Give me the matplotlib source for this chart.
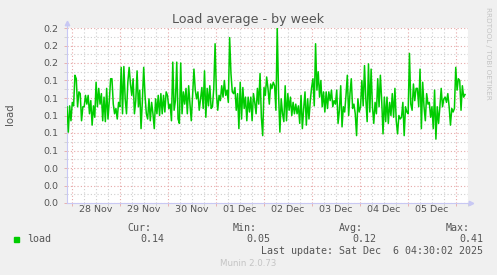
import numpy as np
import pandas as pd
import matplotlib
matplotlib.use("Agg")
import matplotlib.pyplot as plt
import matplotlib.dates as mdates

# ==========================================
# DATA (load average, 1 week)
# ==========================================
load = [
    0.110, 0.081, 0.111, 0.094, 0.115, 0.111, 0.146, 0.142, 0.110, 0.127, 0.125, 0.094,
    0.110, 0.110, 0.123, 0.113, 0.123, 0.102, 0.117, 0.089, 0.111, 0.098, 0.138, 0.110,
    0.131, 0.113, 0.125, 0.094, 0.121, 0.093, 0.131, 0.096, 0.117, 0.142, 0.142, 0.113,
    0.102, 0.108, 0.096, 0.115, 0.110, 0.155, 0.102, 0.156, 0.119, 0.102, 0.138, 0.155,
    0.136, 0.123, 0.142, 0.102, 0.117, 0.151, 0.110, 0.129, 0.085, 0.117, 0.155, 0.123,
    0.102, 0.096, 0.119, 0.094, 0.115, 0.102, 0.085, 0.119, 0.102, 0.123, 0.100, 0.125,
    0.102, 0.123, 0.104, 0.127,
    0.123, 0.108, 0.113, 0.094, 0.161, 0.106, 0.117, 0.161, 0.096, 0.091, 0.160, 0.102,
    0.127, 0.113, 0.131, 0.102, 0.134, 0.113, 0.094, 0.123, 0.153, 0.129, 0.119, 0.127,
    0.106, 0.119, 0.132, 0.108, 0.151, 0.098, 0.131, 0.111, 0.134, 0.108, 0.110, 0.131,
    0.182, 0.125, 0.106, 0.123, 0.117, 0.134, 0.121, 0.140, 0.123, 0.129, 0.115, 0.189,
    0.148, 0.127, 0.125, 0.132, 0.106, 0.125, 0.085, 0.138, 0.096, 0.132, 0.108, 0.121,
    0.094, 0.121, 0.104, 0.121, 0.094, 0.125, 0.115, 0.102, 0.131, 0.113, 0.148, 0.098,
    0.077, 0.132, 0.123, 0.144,
    0.131, 0.113, 0.136, 0.131, 0.138, 0.134, 0.106, 0.200, 0.125, 0.081, 0.119, 0.102,
    0.093, 0.134, 0.094, 0.125, 0.106, 0.121, 0.100, 0.115, 0.102, 0.113, 0.102, 0.111,
    0.091, 0.123, 0.085, 0.108, 0.127, 0.089, 0.119, 0.096, 0.117, 0.132, 0.142, 0.111,
    0.182, 0.129, 0.150, 0.121, 0.140, 0.110, 0.127, 0.104, 0.127, 0.108, 0.127, 0.117,
    0.129, 0.110, 0.117, 0.113, 0.129, 0.091, 0.106, 0.134, 0.087, 0.110, 0.104, 0.123,
    0.146, 0.100, 0.125, 0.142, 0.108, 0.113, 0.102, 0.077, 0.119, 0.104, 0.110, 0.140,
    0.111, 0.157, 0.119, 0.093,
    0.159, 0.104, 0.153, 0.110, 0.091, 0.115, 0.102, 0.142, 0.110, 0.146, 0.117, 0.079,
    0.121, 0.093, 0.121, 0.091, 0.115, 0.100, 0.125, 0.098, 0.131, 0.094, 0.079, 0.100,
    0.096, 0.098, 0.115, 0.077, 0.110, 0.104, 0.102, 0.171, 0.113, 0.106, 0.136, 0.117,
    0.131, 0.131, 0.110, 0.153, 0.085, 0.138, 0.110, 0.094, 0.125, 0.113, 0.115, 0.098,
    0.110, 0.085, 0.129, 0.073, 0.110, 0.091, 0.110, 0.131, 0.110, 0.119, 0.121, 0.115,
    0.125, 0.110, 0.089, 0.108, 0.104, 0.108, 0.155, 0.129, 0.142, 0.140, 0.106, 0.134,
    0.121, 0.124,
]

day_labels = ["28 Nov", "29 Nov", "30 Nov", "01 Dec", "02 Dec", "03 Dec", "04 Dec", "05 Dec"]
y_ticks = [0.00, 0.02, 0.04, 0.06, 0.08, 0.10, 0.12, 0.14, 0.16, 0.18, 0.20]
y_tick_labels = ["0.0", "0.0", "0.0", "0.1", "0.1", "0.1", "0.1", "0.1", "0.2", "0.2", "0.2"]

stat_names = ["Cur:", "Min:", "Avg:", "Max:"]
stat_values = ["0.14", "0.05", "0.12", "0.41"]

t_start = pd.Timestamp("2025-11-27 21:30")
t_end = pd.Timestamp("2025-12-06 04:30")
x_left = pd.Timestamp("2025-11-27 21:30")
x_right = pd.Timestamp("2025-12-06 06:00")

times = pd.date_range(t_start, t_end, periods=len(load))

# ==========================================
# FIGURE
# ==========================================
W, H = 497, 275
BG = "#f0f0f0"
TXT = "#555555"
AXC = "#c8c8f4"

fig = plt.figure(figsize=(W / 100, H / 100), dpi=100, facecolor=BG)
ax = fig.add_axes([67 / W, 1 - 203 / H, (468 - 67) / W, (203 - 28) / H])
ax.set_facecolor("white")

ax.plot(times, load, color="#00cc00", linewidth=1.1, zorder=3)

ax.set_xlim(x_left, x_right)
ax.set_ylim(0, 0.2)

# grid: red dotted majors, grey dotted minors
ax.xaxis.set_major_locator(mdates.DayLocator())
ax.xaxis.set_minor_locator(mdates.HourLocator(byhour=[6, 12, 18]))
ax.xaxis.set_major_formatter(plt.NullFormatter())
ax.set_yticks(y_ticks)
ax.set_yticklabels(y_tick_labels)
ax.set_yticks([v + 0.01 for v in y_ticks[:-1]], minor=True)

ax.grid(which="major", color="#e6a8a8", linestyle=(0, (1, 2)), linewidth=0.8)
ax.grid(which="minor", color="#cfcfcf", linestyle=(0, (1, 2)), linewidth=0.8)
ax.set_axisbelow(True)

ax.tick_params(axis="both", which="both", length=2, width=0.6, color="#e6a8a8",
               labelsize=6.8, labelcolor=TXT, pad=4)
ax.tick_params(axis="both", which="minor", color="#cfcfcf")

for s in ["top", "right"]:
    ax.spines[s].set_visible(False)
for s in ["left", "bottom"]:
    ax.spines[s].set_color(AXC)
    ax.spines[s].set_linewidth(0.8)

# axis arrows
ax.plot([0, 0], [1, 1.025], color=AXC, lw=0.8, transform=ax.transAxes, clip_on=False)
ax.plot([0], [1.03], marker="^", ms=3.2, color=AXC, transform=ax.transAxes, clip_on=False)
ax.plot([1, 1.006], [0, 0], color=AXC, lw=0.8, transform=ax.transAxes, clip_on=False)
ax.plot([1.008], [0], marker=">", ms=3.2, color=AXC, transform=ax.transAxes, clip_on=False)

# day labels centred at noon
for i, lab in enumerate(day_labels):
    ax.text(pd.Timestamp("2025-11-28 12:00") + pd.Timedelta(days=i), -0.012, lab,
            ha="center", va="top", fontsize=6.8, color=TXT,
            transform=ax.get_xaxis_transform())


def fx(x):
    return x / W


def fy(y):
    return 1 - y / H


fig.text(fx(248), fy(20), "Load average - by week", ha="center", va="center",
         fontsize=9.1, color=TXT)
fig.text(fx(10), fy(114), "load", ha="center", va="center", rotation=90,
         fontsize=7.3, color=TXT)
fig.text(fx(488), fy(53), "RRDTOOL / TOBI OETIKER", ha="center", va="center",
         rotation=270, fontsize=5.2, color="#c4c4c4")

# legend
mono = "DejaVu Sans Mono"
fig.patches.append(plt.Rectangle((fx(14), fy(242)), 5 / W, 5 / H, color="#00cc00",
                                 transform=fig.transFigure, figure=fig))
fig.text(fx(27), fy(239), "load", ha="left", va="center", family=mono,
         fontsize=7.2, color=TXT)
name_right = [151, 257, 363, 470]
for name, val, xr in zip(stat_names, stat_values, name_right):
    fig.text(fx(xr), fy(228), name, ha="right", va="center", family=mono,
             fontsize=7.2, color=TXT)
    fig.text(fx(xr + 13), fy(239), val, ha="right", va="center", family=mono,
             fontsize=7.2, color=TXT)
fig.text(fx(483), fy(251), "Last update: Sat Dec  6 04:30:02 2025", ha="right",
         va="center", family=mono, fontsize=7.2, color=TXT)
fig.text(fx(248), fy(263), "Munin 2.0.73", ha="center", va="center",
         fontsize=6.2, color="#c4c4c4")

fig.savefig("out.png", dpi=100, facecolor=BG)
